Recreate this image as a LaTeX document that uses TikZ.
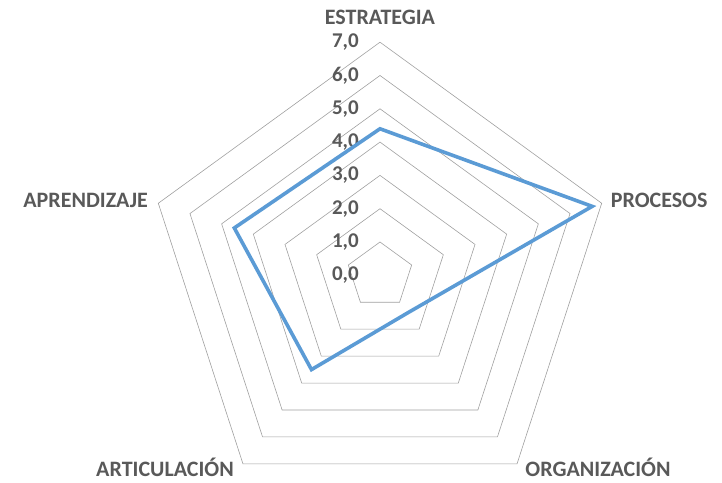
\documentclass[tikz,border=0pt]{standalone}
\usepackage{fontspec}
\setmainfont{Carlito}
\definecolor{gridgray}{HTML}{A0A0A0}
\definecolor{textgray}{HTML}{595959}
\definecolor{seriesblue}{HTML}{5B9BD5}
\begin{document}
\begin{tikzpicture}
      [%%%%%%%%%%%%%%%%%%%%%%%%%%%%%%
      x=33.3pt,y=33.3pt,
      ring/.style={draw=gridgray,line width=0.6pt},
      series/.style={draw=seriesblue,line width=3.6pt,line join=miter},
      tick/.style={anchor=east,inner sep=0pt,text=textgray,font=\fontsize{21}{24}\selectfont\bfseries},
      axislabel/.style={inner sep=0pt,text=textgray,font=\fontsize{22}{26}\selectfont\bfseries},
      ]%%%%%%%%%%%%%%%%%%%%%%%%%%%%%%
      \useasboundingbox (-380pt,-206.7pt) rectangle (342pt,275.3pt);

      % grid rings
      \draw[ring] (90:1) -- (18:1) -- (-54:1) -- (-126:1) -- (162:1) -- cycle;
      \draw[ring] (90:2) -- (18:2) -- (-54:2) -- (-126:2) -- (162:2) -- cycle;
      \draw[ring] (90:3) -- (18:3) -- (-54:3) -- (-126:3) -- (162:3) -- cycle;
      \draw[ring] (90:4) -- (18:4) -- (-54:4) -- (-126:4) -- (162:4) -- cycle;
      \draw[ring] (90:5) -- (18:5) -- (-54:5) -- (-126:5) -- (162:5) -- cycle;
      \draw[ring] (90:6) -- (18:6) -- (-54:6) -- (-126:6) -- (162:6) -- cycle;
      \draw[ring] (90:7) -- (18:7) -- (-54:7) -- (-126:7) -- (162:7) -- cycle;

      % scale
      \node[tick] (t0) at (-21pt,0) {0,0};
      \node[tick] (t1) at (-21pt,1) {1,0};
      \node[tick] (t2) at (-21pt,2) {2,0};
      \node[tick] (t3) at (-21pt,3) {3,0};
      \node[tick] (t4) at (-21pt,4) {4,0};
      \node[tick] (t5) at (-21pt,5) {5,0};
      \node[tick] (t6) at (-21pt,6) {6,0};
      \node[tick] (t7) at (-21pt,7) {7,0};

      % data
      \coordinate (estrategia) at (90:4.4);
      \coordinate (procesos) at (18:6.7);
      \coordinate (organizacion) at (-54:1.4);
      \coordinate (articulacion) at (-126:3.5);
      \coordinate (aprendizaje) at (162:4.6);
      \draw[series] (estrategia) -- (procesos) -- (organizacion) -- (articulacion) -- (aprendizaje) -- cycle;

      % axis names
      \node[axislabel] (lestrategia) at (0pt,258pt) {ESTRATEGIA};
      \node[axislabel,anchor=west] (lprocesos) at (230.7pt,75.3pt) {PROCESOS};
      \node[axislabel,anchor=east] (laprendizaje) at (-232pt,75.3pt) {APRENDIZAJE};
      \node[axislabel,anchor=base] (larticulacion) at (-215pt,-201.5pt) {ARTICULACIÓN};
      \node[axislabel,anchor=base] (lorganizacion) at (218pt,-201.5pt) {ORGANIZACIÓN};
    \end{tikzpicture}
\end{document}
